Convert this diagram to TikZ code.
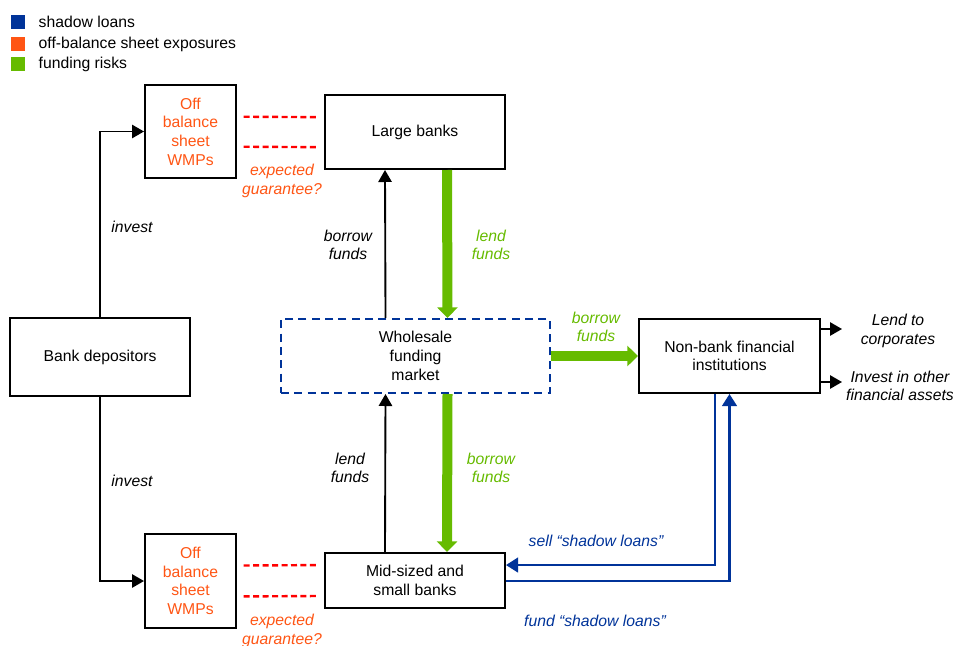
\documentclass[tikz,border=0pt]{standalone}
\usepackage{fontspec}
\setmainfont{Liberation Sans}
\usetikzlibrary{arrows.meta}
\definecolor{shadowBlue}{RGB}{0,51,153}
\definecolor{offOrange}{RGB}{255,85,20}
\definecolor{fundGreen}{RGB}{102,187,0}

\begin{document}
\begin{tikzpicture}[x=0.75pt, y=-0.75pt, font=\fontsize{11.8}{14}\selectfont,
    boxStyle/.style={draw, line width=1.5pt, align=center, inner sep=0pt},
    labelStyle/.style={font=\fontsize{11.8}{14}\selectfont\itshape, align=center},
    keyStyle/.style={minimum size=10pt, inner sep=0pt},
    plainArrow/.style={line width=1.4pt, -{Triangle[length=9pt, width=10pt]}},
    fundArrow/.style={fundGreen, line width=7.5pt, -{Triangle[length=8pt, width=15pt]}},
    shadowArrow/.style={shadowBlue, line width=1.6pt, -{Triangle[length=9pt, width=11pt]}},
    guarLine/.style={red, line width=1.8pt, dash pattern=on 4.5pt off 2.6pt, shorten <=5pt, shorten >=5pt}]
    \useasboundingbox (0,0) rectangle (953,646);

    % legend
    \node[keyStyle, fill=shadowBlue](key1) at (18,22) {};
    \node[keyStyle, fill=offOrange](key2) at (18,44) {};
    \node[keyStyle, fill=fundGreen](key3) at (18,64) {};
    \node[anchor=west](keyText1) at (34,22) {shadow loans};
    \node[anchor=west](keyText2) at (34,44) {off-balance sheet exposures};
    \node[anchor=west](keyText3) at (34,64) {funding risks};

    % boxes
    \node[boxStyle, minimum width=68.25pt, minimum height=69.75pt, text=offOrange](wmpTop) at (190.5,131.5) {Off\\balance\\sheet\\WMPs};
    \node[boxStyle, minimum width=68.25pt, minimum height=70.5pt, text=offOrange](wmpBot) at (190.5,581) {Off\\balance\\sheet\\WMPs};
    \node[boxStyle, minimum width=135pt, minimum height=55.5pt](large) at (415,132) {Large banks};
    \node[boxStyle, minimum width=135pt, minimum height=41.25pt](midsmall) at (415,580.5) {Mid-sized and\\small banks};
    \node[boxStyle, minimum width=135pt, minimum height=58.5pt](depositors) at (100,357) {Bank depositors};
    \node[boxStyle, draw=shadowBlue, dash pattern=on 6pt off 4pt, minimum width=201.75pt, minimum height=55.5pt](wholesale) at (415.5,356) {Wholesale\\funding\\market};
    \node[boxStyle, minimum width=135.75pt, minimum height=55.5pt](nbfi) at (729.5,356) {Non-bank financial\\institutions};

    % labels
    \node[labelStyle, text=offOrange](guarTop) at (282,181) {expected\\guarantee?};
    \node[labelStyle, text=offOrange](guarBot) at (282,631) {expected\\guarantee?};
    \node[labelStyle](investTop) at (132,227) {invest};
    \node[labelStyle](investBot) at (132,481) {invest};
    \node[labelStyle](borrowTop) at (348,245) {borrow\\funds};
    \node[labelStyle, text=fundGreen](lendTop) at (491,245) {lend\\funds};
    \node[labelStyle, text=fundGreen](borrowRight) at (596,327) {borrow\\funds};
    \node[labelStyle](lendBot) at (350,468) {lend\\funds};
    \node[labelStyle, text=fundGreen](borrowBot) at (491,468) {borrow\\funds};
    \node[labelStyle, text=shadowBlue](sellLbl) at (596,541) {sell “shadow loans”};
    \node[labelStyle, text=shadowBlue](fundLbl) at (595,621) {fund “shadow loans”};
    \node[labelStyle](lendCorp) at (898,331) {Lend to\\corporates};
    \node[labelStyle](investOther) at (900,386) {Invest in other\\financial assets};

    \coordinate (lendEnd) at (842,329);
    \coordinate (investEnd) at (842,382);

    % connectors
    \draw[plainArrow] (depositors.north) |- (wmpTop.west);
    \draw[plainArrow] (depositors.south) |- (wmpBot.west);
    \draw[guarLine] ([yshift=11.1pt]wmpTop.east) -- ([yshift=11.1pt]large.west);
    \draw[guarLine] ([yshift=-11.4pt]wmpTop.east) -- ([yshift=-11.4pt]large.west);
    \draw[guarLine] ([yshift=11.6pt]wmpBot.east) -- ([yshift=11.6pt]midsmall.west);
    \draw[guarLine] ([yshift=-11.6pt]wmpBot.east) -- ([yshift=-11.6pt]midsmall.west);
    \draw[plainArrow] ([xshift=-22.5pt]wholesale.north) -- ([xshift=-22.5pt]large.south);
    \draw[fundArrow] ([xshift=24pt]large.south) -- ([xshift=24pt]wholesale.north);
    \draw[plainArrow] ([xshift=-22.5pt]midsmall.north) -- ([xshift=-22.5pt]wholesale.south);
    \draw[fundArrow] ([xshift=24pt]wholesale.south) -- ([xshift=24pt]midsmall.north);
    \draw[fundArrow] (wholesale.east) -- (nbfi.west);
    \draw[shadowArrow] ([xshift=-10.9pt]nbfi.south) |- ([yshift=11.6pt]midsmall.east);
    \draw[shadowArrow] ([yshift=-0.4pt]midsmall.east) -| (nbfi.south);
    \draw[plainArrow] ([yshift=20.25pt]nbfi.east) -- (lendEnd);
    \draw[plainArrow] ([yshift=-19.5pt]nbfi.east) -- (investEnd);
\end{tikzpicture}
\end{document}
